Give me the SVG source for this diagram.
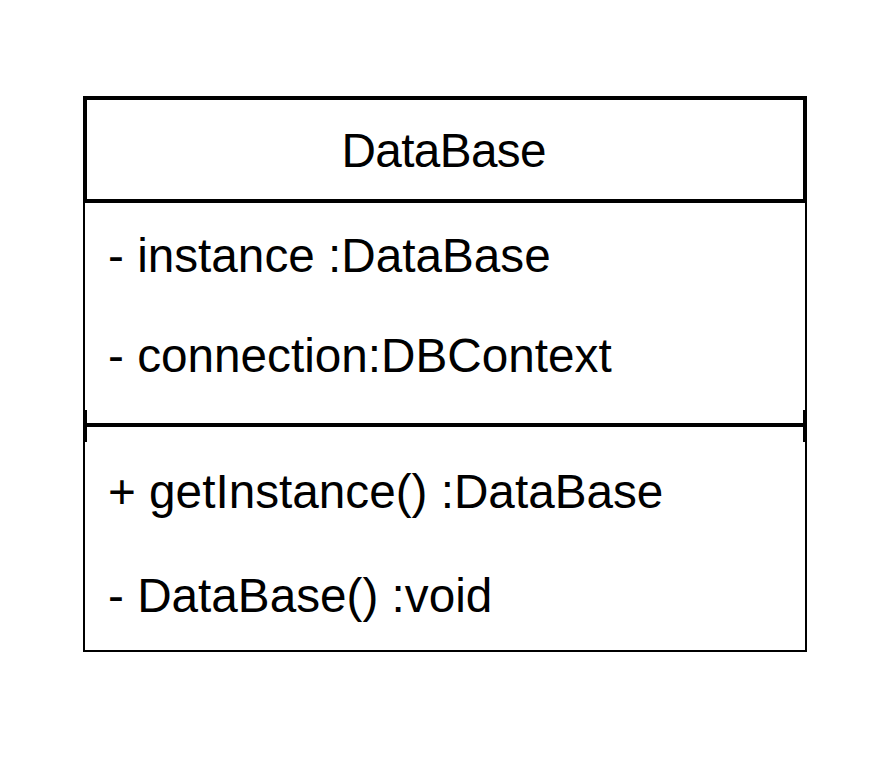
<svg xmlns="http://www.w3.org/2000/svg" width="888" height="760" viewBox="0 0 888 760">
<style>
  .t { font-family: "Liberation Sans", Arial, sans-serif; font-size: 47.7px; fill: #000; }
  .thin { fill: none; stroke: #000; stroke-width: 2; }
  .thick { fill: none; stroke: #000; stroke-width: 4; }
</style>
<rect width="888" height="760" fill="#fff"/>
<g id="class-DataBase">
  <rect class="thin" x="84" y="98" width="722" height="553" fill="#fff"/>
  <rect class="thick" x="85" y="98" width="720" height="103"/>
  <line class="thin" x1="84" y1="201" x2="806" y2="201"/>
  <text class="t" x="444" y="166.7" text-anchor="middle" textLength="205">DataBase</text>
  <text class="t" x="108" y="271.7">- instance :DataBase</text>
  <text class="t" x="108" y="371.7">- connection:DBContext</text>
  <line class="thick" x1="84" y1="425" x2="806" y2="425"/>
  <rect x="83" y="410" width="4" height="32" fill="#000"/>
  <rect x="803" y="410" width="4" height="32" fill="#000"/>
  <text class="t" x="108" y="508">+ getInstance() :DataBase</text>
  <text class="t" x="108" y="612">- DataBase() :void</text>
</g>
<g id="connectors"></g>
</svg>
